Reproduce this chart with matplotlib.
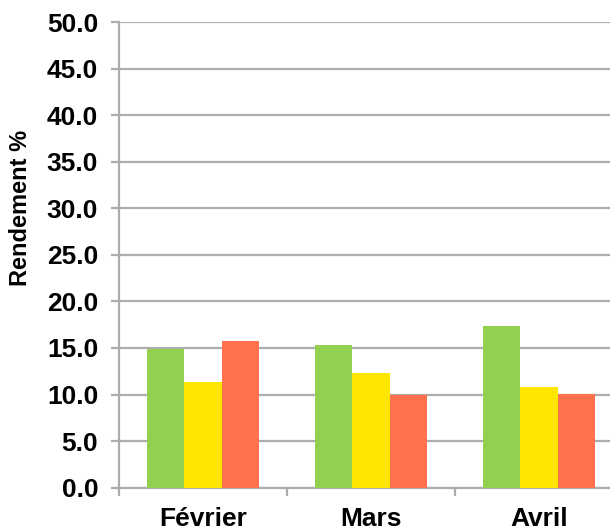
import numpy as np
import matplotlib
matplotlib.use("Agg")
from matplotlib import pyplot as plt

plt.rcParams['font.family'] = ['Liberation Sans', 'DejaVu Sans']
plt.rcParams['font.weight'] = 'bold'

months = ["Février", "Mars", "Avril"]
serie_verte = [14.9, 15.3, 17.4]
serie_jaune = [11.4, 12.3, 10.8]
serie_rouge = [15.7, 9.9, 10.1]
y_ticks = np.arange(0, 50.1, 5.0)

colors = ["#92D050", "#FFE600", "#FF704D"]
grid_color = "#ADADAD"

fig = plt.figure(figsize=(6.1, 5.3), dpi=100)
ax = fig.add_axes([119 / 610, 42.3 / 530, 504 / 610, 465.7 / 530])

x = np.arange(len(months))
width = 0.222
for i, (values, color) in enumerate(zip([serie_verte, serie_jaune, serie_rouge], colors)):
    ax.bar(x + (i - 1) * width, values, width=width, color=color, zorder=3)

ax.set_xlim(-0.5, len(months) - 0.5)
ax.set_ylim(0, 50)
ax.set_yticks(y_ticks)
ax.set_yticklabels([f"{v:.1f}" for v in y_ticks], fontsize=19, fontweight='bold')
ax.yaxis.grid(True, color=grid_color, linewidth=1.6, zorder=0)

# category labels at centres, tick marks between categories
ax.set_xticks(x)
ax.set_xticklabels(months, fontsize=19, fontweight='bold')
ax.set_xticks(np.arange(-0.5, len(months), 1.0), minor=True)
ax.tick_params(axis='x', which='major', length=0, pad=14)
ax.tick_params(axis='x', which='minor', length=6, width=1.6, color=grid_color)
ax.tick_params(axis='y', length=6, width=1.6, color=grid_color, pad=9)

for side in ["top", "right"]:
    ax.spines[side].set_visible(False)
for side in ["left", "bottom"]:
    ax.spines[side].set_color(grid_color)
    ax.spines[side].set_linewidth(1.6)

ax.set_ylabel("Rendement %", fontsize=17, fontweight='bold')
ax.yaxis.set_label_coords(-0.172, 0.6)

fig.savefig("out.png", dpi=100)
